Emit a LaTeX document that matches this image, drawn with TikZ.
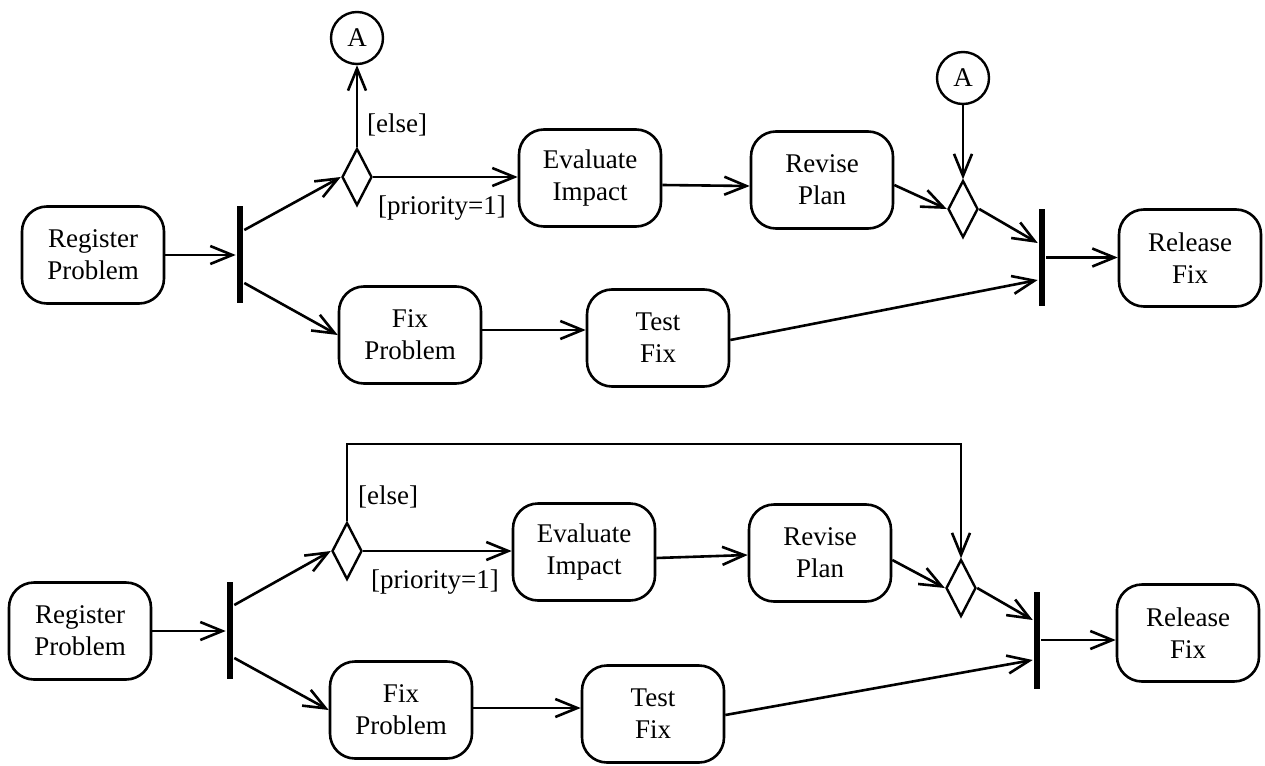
\documentclass[tikz,border=0pt]{standalone}
\usepackage{fontspec}
\setmainfont{Liberation Serif}
\usetikzlibrary{arrows.meta,shapes.geometric,calc}
\begin{document}
\begin{tikzpicture}[x=1pt,y=-1pt,
  font=\fontsize{27}{32}\selectfont,
  every path/.style={line width=2.6pt},
  act/.style={draw,rounded corners=25pt,minimum width=142pt,minimum height=97pt,align=center,inner sep=0pt,line width=2.6pt},
  forkbar/.style={fill=black,draw=none,minimum width=6pt,minimum height=97pt,inner sep=0pt},
  dec/.style={draw,diamond,minimum width=30pt,minimum height=57pt,inner sep=0pt,line width=2.4pt},
  conn/.style={draw,circle,minimum size=52pt,inner sep=0pt,line width=2.4pt},
  guard/.style={inner sep=0pt},
  arr/.style={-{Straight Barb[length=22pt,width=18pt,line width=2.6pt]}}
]
\useasboundingbox (0,0) rectangle (1265,765);
% ---------------- top diagram ----------------
\node[act] (reg1) at (93,255) {Register\\Problem};
\node[forkbar] (bar1) at (240,254.5) {};
\node[dec] (dia1) at (357,177) {};
\node[conn] (a1) at (357,38) {A};
\node[act] (eval1) at (590,178) {Evaluate\\Impact};
\node[act] (rev1) at (822,180) {Revise\\Plan};
\node[dec] (dia2) at (963,209) {};
\node[conn] (a2) at (963,78) {A};
\node[forkbar] (bar2) at (1042,257.5) {};
\node[act] (rel1) at (1190,258) {Release\\Fix};
\node[act] (fix1) at (410,335) {Fix\\Problem};
\node[act] (test1) at (658,338) {Test\\Fix};
\node[guard] (else1) at (397,125) {[else]};
\node[guard] (prio1) at (442,208) {[priority=1]};

\draw[arr] (reg1.east) -- (reg1.east -| bar1.west);
\draw[arr] ([yshift=24.5pt]bar1.east) -- (dia1.west);
\draw[arr] ([yshift=-28.5pt]bar1.east) -- (fix1.west);
\draw[arr] (dia1.north) -- (a1.south);
\draw[arr] (dia1.east) -- (dia1.east -| eval1.west);
\draw[arr] ([yshift=-7pt]eval1.east) -- ([yshift=-6pt]rev1.west);
\draw[arr] ([yshift=-5pt]rev1.east) -- (dia2.west);
\draw[arr] (a2.south) -- (dia2.north);
\draw[arr] (dia2.east) -- ([yshift=14.5pt]bar2.west);
\draw[arr] ([yshift=5pt]fix1.east) -- ([yshift=8pt]test1.west);
\draw[arr] ([yshift=-2pt]test1.east) -- ([yshift=-22.5pt]bar2.west);
\draw[arr] (bar2.east) -- (bar2.east -| rel1.west);

% ---------------- bottom diagram ----------------
\node[act] (reg2) at (80,631) {Register\\Problem};
\node[forkbar] (bar3) at (230,630) {};
\node[dec] (dia3) at (347,551) {};
\node[act] (eval2) at (584,552) {Evaluate\\Impact};
\node[act] (rev2) at (820,553) {Revise\\Plan};
\node[dec] (dia4) at (961,588) {};
\node[forkbar] (bar4) at (1037,640) {};
\node[act] (rel2) at (1188,633) {Release\\Fix};
\node[act] (fix2) at (401,710) {Fix\\Problem};
\node[act] (test2) at (653,714) {Test\\Fix};
\node[guard] (else2) at (388,497) {[else]};
\node[guard] (prio2) at (435,582) {[priority=1]};
\coordinate (loop) at (650,444);

\draw[arr] (reg2.east) -- (reg2.east -| bar3.west);
\draw[arr] ([yshift=25pt]bar3.east) -- (dia3.west);
\draw[arr] ([yshift=-28pt]bar3.east) -- (fix2.west);
\draw[arr] (dia3.north) |- (loop) -| (dia4.north);
\draw[arr] (dia3.east) -- (dia3.east -| eval2.west);
\draw[arr] ([yshift=-6pt]eval2.east) -- ([yshift=-2pt]rev2.west);
\draw[arr] ([yshift=-7pt]rev2.east) -- (dia4.west);
\draw[arr] (dia4.east) -- ([yshift=20pt]bar4.west);
\draw[arr] ([yshift=2pt]fix2.east) -- ([yshift=6pt]test2.west);
\draw[arr] ([yshift=-1pt]test2.east) -- ([yshift=-20pt]bar4.west);
\draw[arr] (bar4.east) -- (bar4.east -| rel2.west);
\end{tikzpicture}
\end{document}
